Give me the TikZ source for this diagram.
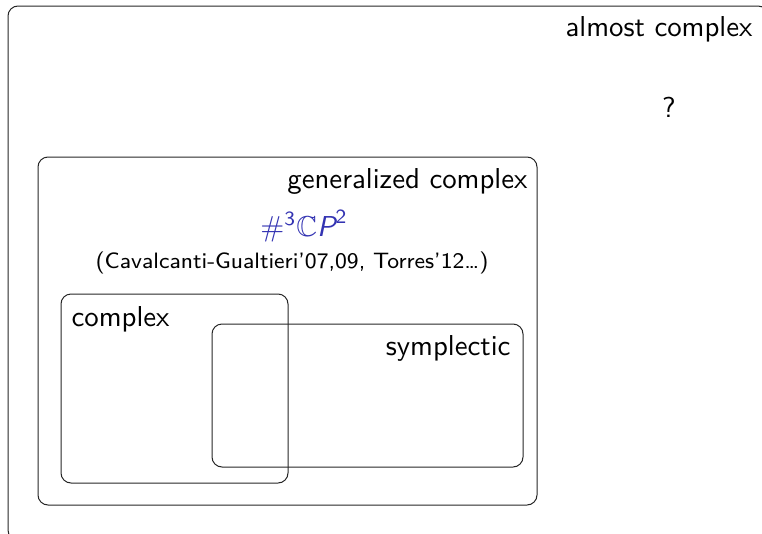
\documentclass[tikz,border=0pt]{standalone}
\usepackage{amssymb}
\definecolor{struct}{rgb}{0.2,0.2,0.7}
\begin{document}
\begin{tikzpicture}[x=1pt,y=-1pt,
  setbox/.style={draw=black!85,line width=1pt,rounded corners=10pt},
  lab/.style={font=\sffamily\fontsize{10}{12}\selectfont,inner sep=0pt,scale=2.88},
  cite/.style={font=\sffamily\fontsize{8}{10}\selectfont,inner sep=0pt,scale=2.78}]
\useasboundingbox (0,0) rectangle (762,533);
\draw[setbox] (8,6) rectangle (768,540);
\node[lab,anchor=base east] (almost) at (753,36) {almost complex};
\node[lab,anchor=base] (q) at (669,117) {?};
\draw[setbox] (38,157) rectangle (537,505);
\node[lab,anchor=base east] (gen) at (528,188) {generalized complex};
\node[lab,anchor=base,text=struct] (cp) at (304,236) {$\#^{\mathsf{3}}\mathbb{C}\textsf{\itshape P}^{\mathsf{2}}$};
\node[cite,anchor=base] (cit) at (292,268) {(Cavalcanti-Gualtieri'07,09, Torres'12\dots)};
\draw[setbox] (61,294) rectangle (288,483);
\node[lab,anchor=base west] (cx) at (71,326) {complex};
\draw[setbox] (212,324) rectangle (523,467);
\node[lab,anchor=base east] (sy) at (511,355) {symplectic};
\end{tikzpicture}
\end{document}
